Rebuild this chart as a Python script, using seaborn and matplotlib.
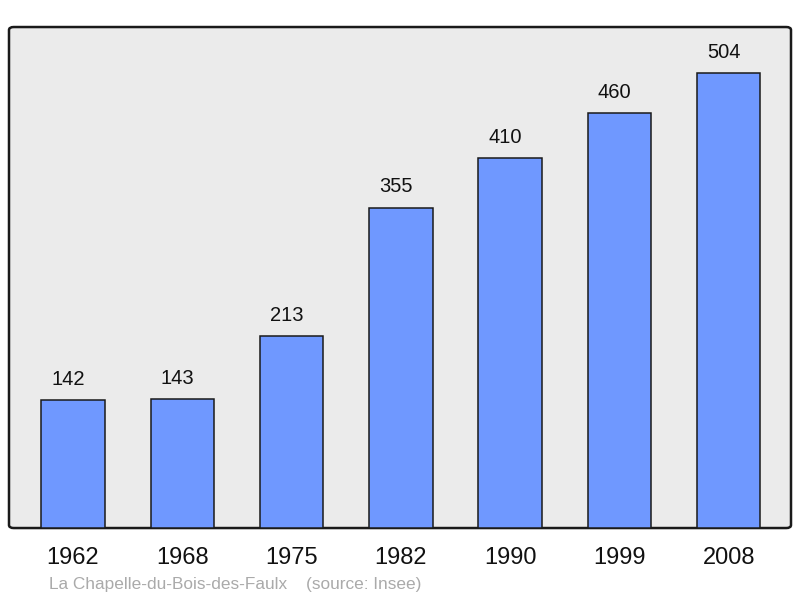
import matplotlib
matplotlib.use("Agg")
import matplotlib.pyplot as plt
import seaborn as sns
import pandas as pd
from matplotlib.patches import FancyBboxPatch

years = ["1962", "1968", "1975", "1982", "1990", "1999", "2008"]
population = [142, 143, 213, 355, 410, 460, 504]
commune = "La Chapelle-du-Bois-des-Faulx"
source = "(source: Insee)"

df = pd.DataFrame({"year": years, "pop": population})

sns.set_style("white")
plt.rcParams["font.family"] = ["Liberation Sans", "DejaVu Sans"]

fig = plt.figure(figsize=(8, 5.98), dpi=100)
ax = fig.add_axes([0.01125, 0.117, 0.9775, 0.8378])
ax.set_facecolor("none")

# rounded frame behind the bars
frame = FancyBboxPatch((0, 0), 1, 1, boxstyle="round,pad=0,rounding_size=0.006",
                       transform=ax.transAxes, facecolor="#ebebeb",
                       edgecolor="#1a1a1a", linewidth=1.8, zorder=0, clip_on=False)
ax.add_patch(frame)

sns.barplot(data=df, x="year", y="pop", color="#6f98ff", saturation=1,
            width=0.58, edgecolor="#1a1a1a", linewidth=1.1, ax=ax, zorder=2)

# value labels sit a little left of the bar centre, like the original
for i, v in enumerate(population):
    ax.annotate(str(v), (i, v), xytext=(-3.5, 8), textcoords="offset points",
                ha="center", va="bottom", fontsize=14.5, color="#111111")

ax.set_xlim(-0.585, 6.57)
ax.set_ylim(0, 555)
ax.set_yticks([])
ax.set_xlabel("")
ax.set_ylabel("")
ax.tick_params(axis="x", length=0, labelsize=17, pad=14, colors="#111111")
for s in ax.spines.values():
    s.set_visible(False)

fig.text(49 / 800, 1 - 585 / 598, commune, fontsize=12.4, color="#aaaaaa",
         ha="left", va="center")
fig.text(306 / 800, 1 - 585 / 598, source, fontsize=12.4, color="#aaaaaa",
         ha="left", va="center")

fig.savefig("out.png", dpi=100)
